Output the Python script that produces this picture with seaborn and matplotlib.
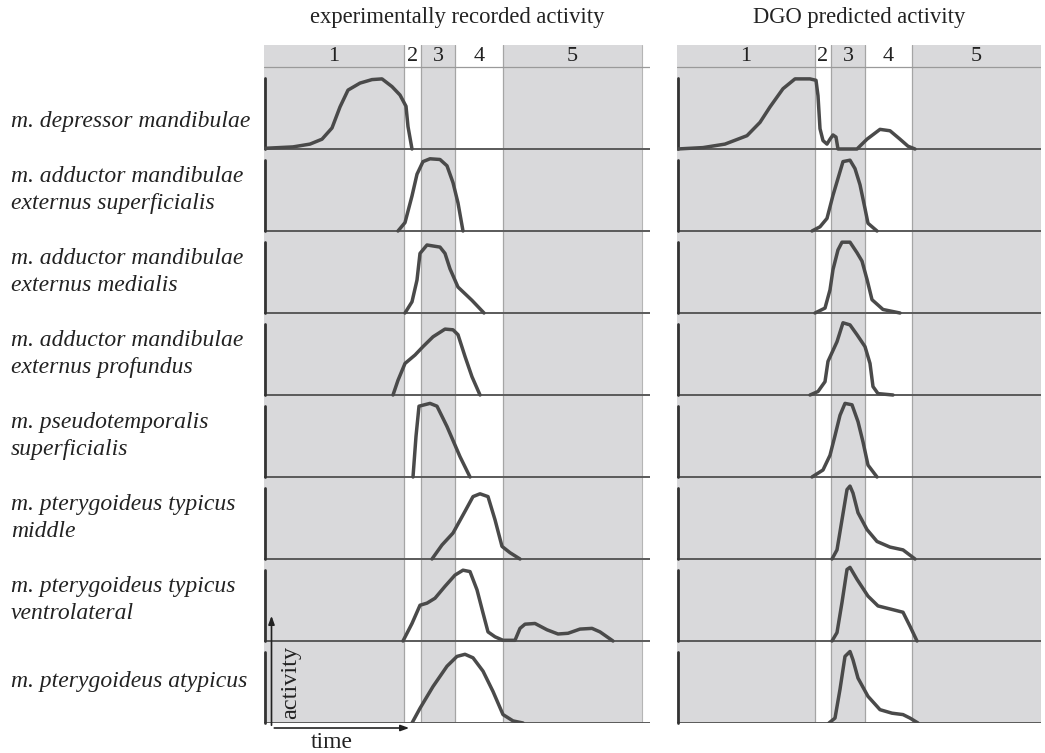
import numpy as np
import pandas as pd
import matplotlib.pyplot as plt
import seaborn as sns

# ── muscle names (row labels) ────────────────────────────────────────────────
muscles = [
    "m. depressor mandibulae",
    "m. adductor mandibulae\nexternus superficialis",
    "m. adductor mandibulae\nexternus medialis",
    "m. adductor mandibulae\nexternus profundus",
    "m. pseudotemporalis\nsuperficialis",
    "m. pterygoideus typicus\nmiddle",
    "m. pterygoideus typicus\nventrolateral",
    "m. pterygoideus atypicus",
]
phase_labels = ["1", "2", "3", "4", "5"]
panel_titles = ["experimentally recorded activity", "DGO predicted activity"]

# phase boundaries (time units) for each panel
exp_phases = [0, 140, 157, 191, 239, 378]
dgo_phases = [0, 138, 154, 188, 235, 364]

# ── experimentally recorded activity (time, normalised activity) ─────────────
exp_dep_t = [1, 29, 46, 58, 68, 76, 84, 96, 108, 118, 128, 136, 142, 144, 148]
exp_dep_a = [0.01, 0.03, 0.07, 0.14, 0.30, 0.60, 0.84, 0.94, 0.99, 1.0, 0.89, 0.77, 0.61, 0.32, 0.0]

exp_sup_t = [134, 141, 148, 153, 159, 166, 176, 183, 189, 194, 199]
exp_sup_a = [0.0, 0.12, 0.50, 0.81, 0.99, 1.03, 1.02, 0.93, 0.69, 0.40, 0.0]

exp_med_t = [141, 148, 153, 156, 163, 176, 181, 186, 194, 208, 220]
exp_med_a = [0.0, 0.16, 0.47, 0.85, 0.97, 0.94, 0.85, 0.63, 0.37, 0.18, 0.0]

exp_pro_t = [129, 134, 141, 151, 159, 169, 181, 189, 194, 201, 208, 216]
exp_pro_a = [0.0, 0.21, 0.45, 0.57, 0.69, 0.83, 0.94, 0.93, 0.86, 0.55, 0.26, 0.0]

exp_pse_t = [149, 152, 155, 166, 173, 183, 196, 206]
exp_pse_a = [0.0, 0.58, 1.01, 1.05, 1.01, 0.72, 0.29, 0.0]

exp_mid_t = [168, 178, 189, 201, 209, 216, 224, 231, 238, 246, 256]
exp_mid_a = [0.0, 0.20, 0.37, 0.68, 0.89, 0.93, 0.89, 0.56, 0.18, 0.09, 0.0]

exp_ven_t = [139, 148, 156, 163, 171, 181, 191, 199, 206, 213, 219, 224, 231, 239,
             251, 256, 261, 271, 283, 294, 304, 316, 328, 336, 343, 349]
exp_ven_a = [0.0, 0.25, 0.51, 0.54, 0.61, 0.78, 0.94, 1.01, 0.99, 0.73, 0.40, 0.13, 0.06, 0.01,
             0.01, 0.18, 0.24, 0.25, 0.16, 0.10, 0.11, 0.17, 0.18, 0.13, 0.06, 0.0]

exp_aty_t = [148, 156, 169, 183, 193, 201, 209, 219, 229, 239, 249, 259]
exp_aty_a = [0.0, 0.21, 0.52, 0.81, 0.95, 0.98, 0.93, 0.74, 0.45, 0.12, 0.03, 0.0]

# ── DGO predicted activity ───────────────────────────────────────────────────
dgo_dep_t = [0, 26, 48, 70, 83, 93, 106, 118, 133, 139, 141, 143, 146, 150, 153, 156,
             159, 161, 180, 190, 203, 213, 223, 231, 238]
dgo_dep_a = [0.0, 0.02, 0.07, 0.19, 0.38, 0.60, 0.86, 1.0, 1.0, 0.98, 0.76, 0.29, 0.12, 0.07, 0.14, 0.20,
             0.17, 0.0, 0.0, 0.14, 0.28, 0.26, 0.14, 0.04, 0.0]

dgo_sup_t = [135, 143, 150, 156, 161, 166, 173, 178, 183, 188, 191, 200]
dgo_sup_a = [0.0, 0.06, 0.18, 0.51, 0.75, 0.99, 1.01, 0.89, 0.66, 0.32, 0.11, 0.0]

dgo_med_t = [138, 148, 153, 156, 161, 165, 173, 180, 185, 190, 195, 206, 223]
dgo_med_a = [0.0, 0.07, 0.33, 0.62, 0.90, 1.01, 1.01, 0.86, 0.74, 0.48, 0.19, 0.05, 0.0]

dgo_pro_t = [133, 141, 148, 151, 160, 166, 173, 180, 188, 193, 196, 201, 216]
dgo_pro_a = [0.0, 0.05, 0.19, 0.48, 0.76, 1.03, 1.0, 0.86, 0.69, 0.45, 0.12, 0.02, 0.0]

dgo_pse_t = [135, 146, 153, 158, 163, 168, 175, 181, 186, 191, 200]
dgo_pse_a = [0.0, 0.10, 0.31, 0.59, 0.88, 1.05, 1.03, 0.79, 0.50, 0.17, 0.0]

dgo_mid_t = [155, 160, 165, 170, 173, 176, 181, 190, 200, 213, 226, 238]
dgo_mid_a = [0.0, 0.13, 0.56, 0.99, 1.04, 0.94, 0.66, 0.42, 0.25, 0.17, 0.13, 0.0]

dgo_ven_t = [155, 160, 165, 170, 173, 180, 191, 201, 215, 226, 233, 240]
dgo_ven_a = [0.0, 0.12, 0.55, 1.02, 1.05, 0.88, 0.64, 0.50, 0.45, 0.41, 0.21, 0.0]

dgo_aty_t = [152, 158, 163, 168, 173, 176, 181, 191, 203, 215, 226, 233, 241]
dgo_aty_a = [0.0, 0.07, 0.48, 0.95, 1.02, 0.90, 0.64, 0.38, 0.19, 0.14, 0.12, 0.07, 0.0]

exp_curves = [(exp_dep_t, exp_dep_a), (exp_sup_t, exp_sup_a), (exp_med_t, exp_med_a),
              (exp_pro_t, exp_pro_a), (exp_pse_t, exp_pse_a), (exp_mid_t, exp_mid_a),
              (exp_ven_t, exp_ven_a), (exp_aty_t, exp_aty_a)]
dgo_curves = [(dgo_dep_t, dgo_dep_a), (dgo_sup_t, dgo_sup_a), (dgo_med_t, dgo_med_a),
              (dgo_pro_t, dgo_pro_a), (dgo_pse_t, dgo_pse_a), (dgo_mid_t, dgo_mid_a),
              (dgo_ven_t, dgo_ven_a), (dgo_aty_t, dgo_aty_a)]

# ── style ─────────────────────────────────────────────────────────────────────
sns.set_theme(style="white")
plt.rcParams['font.family'] = ['Liberation Serif', 'DejaVu Serif']

W, H = 1045, 753
fig = plt.figure(figsize=(W / 100, H / 100), dpi=100)

GREY = "#d9d9db"
CURVE = "#4a4a4a"
TEXT = "#222222"
n_rows = len(muscles)
header = 22 / 82          # header band height in row units
scale = 0.855             # activity 1.0 -> fraction of a row


def draw_panel(ax, phases, curves, xmax, title):
    ytop = n_rows + header
    ax.set_xlim(0, xmax)
    ax.set_ylim(0, ytop)
    ax.axis("off")

    # shaded phases 1, 3, 5
    for k in range(5):
        if k % 2 == 0:
            ax.axvspan(phases[k], phases[k + 1], 0, 1, color=GREY, lw=0, zorder=0)
        if k > 0:
            ax.plot([phases[k]] * 2, [0, ytop], color="#a5a5a5", lw=0.9, zorder=1)
    ax.plot([phases[-1]] * 2, [0, ytop], color="#b5b5b5", lw=0.8, zorder=1)
    ax.plot([0, xmax], [n_rows, n_rows], color="#9a9a9a", lw=0.9, zorder=1)

    # phase numbers in header
    for k, lab in enumerate(phase_labels):
        ax.text((phases[k] + phases[k + 1]) / 2, n_rows + header / 2 - 0.01, lab,
                ha="center", va="center", fontsize=16, color=TEXT)

    # rows
    for i, (t, a) in enumerate(curves):
        base = n_rows - 1 - i
        ax.plot([0, xmax], [base, base], color="#5a5a5a", lw=1.4, zorder=2)
        ax.plot([0.6, 0.6], [base, base + 0.87], color="#333333", lw=2.0, zorder=3,
                clip_on=False)
        df = pd.DataFrame({"time": t, "activity": base + np.array(a) * scale})
        sns.lineplot(data=df, x="time", y="activity", ax=ax, color=CURVE, lw=2.5,
                     sort=False, estimator=None, zorder=4)

    pos = ax.get_position()
    fig.text((pos.x0 + pos.x1) / 2, 1 - 17 / H, title,
             ha="center", va="center", fontsize=16.3, color=TEXT)


ax_exp = fig.add_axes([264 / W, 1 - 723 / H, (650 - 264) / W, (723 - 45) / H])
ax_dgo = fig.add_axes([677 / W, 1 - 723 / H, (1041 - 677) / W, (723 - 45) / H])

draw_panel(ax_exp, exp_phases, exp_curves, 386, panel_titles[0])
draw_panel(ax_dgo, dgo_phases, dgo_curves, 364, panel_titles[1])

# muscle labels on the left
for i, name in enumerate(muscles):
    yc = n_rows - 1 - i + 0.5
    if i == 0:
        yc -= 0.16
    ax_exp.annotate(name, xy=(11 / W, yc), xycoords=("figure fraction", "data"),
                    ha="left", va="center", fontsize=17, style="italic",
                    color=TEXT, linespacing=1.33)

# activity / time axis arrows
Arrow = plt.matplotlib.patches.FancyArrowPatch
head = "-|>,head_length=0.5,head_width=0.18"
fig.add_artist(Arrow((271.5 / W, 1 - 728 / H), (271.5 / W, 1 - 613 / H),
                     transform=fig.transFigure, arrowstyle=head, color=TEXT,
                     lw=1.2, mutation_scale=10))
fig.add_artist(Arrow((271.5 / W, 1 - 728 / H), (412 / W, 1 - 728 / H),
                     transform=fig.transFigure, arrowstyle=head, color=TEXT,
                     lw=1.2, mutation_scale=10))
fig.text(291 / W, 1 - 682 / H, "activity", rotation=90, ha="center", va="center",
         fontsize=17.5, color=TEXT)
fig.text(332 / W, 1 - 742 / H, "time", ha="center", va="center",
         fontsize=17, color=TEXT)

fig.savefig("out.png", dpi=100)
